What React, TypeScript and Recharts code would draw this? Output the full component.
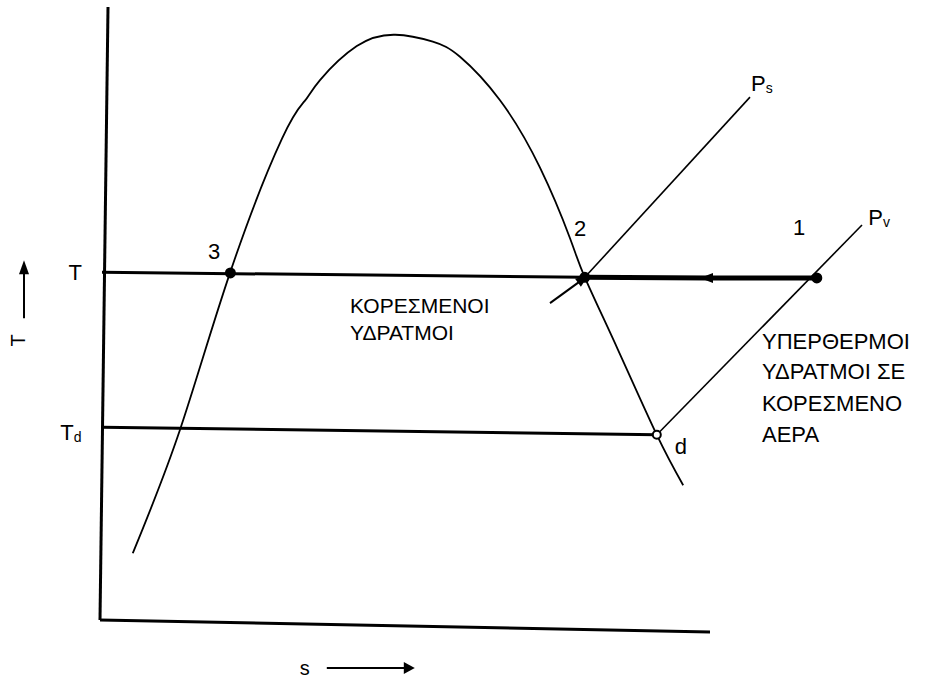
import React from "react";
import { LineChart, Line, XAxis, YAxis, ReferenceDot } from "recharts";

// s (entropy) and T (temperature) in arbitrary units
const domeS = [4.1, 10, 16.25, 22.75, 25.6, 27.5, 32.1, 36.9, 41.6, 45, 50, 55, 58.75, 60.6, 64.75, 69.6, 72.9];
const domeT = [12.5, 32.1, 57.0, 78.3, 84.3, 87.6, 93.0, 94.8, 93.7, 91.3, 84.4, 73.7, 62.5, 56.3, 44.8, 31.3, 23.3];

// isotherm T: thin part up to point 2, thick part 1 -> 2 with arrow
const isoS = [0.25, 60.6];
const isoT = [57.1, 56.3];
const heatS = [60.6, 76, 89.6];
const heatT = [56.3, 56.2, 56.2];

// dew point line Td
const dewS = [0.25, 69.6];
const dewT = [32.5, 31.3];

// isobars Ps and Pv
const psS = [60.6, 81.25];
const psT = [56.3, 84.9];
const psArrowS = [56.25, 60.25];
const psArrowT = [52.2, 55.9];
const pvS = [69.6, 95.25];
const pvT = [31.3, 64.6];

// hand drawn axes
const axisYS = [1, 0];
const axisYT = [99.2, 1.9];
const axisXS = [0, 76.25];
const axisXT = [1.9, 0];

// state points 3, 2, 1, d
const stateNames = ["3", "2", "1", "d"];
const stateS = [16.3, 60.6, 89.6, 69.6];
const stateT = [57.0, 56.3, 56.2, 31.3];

// text labels
const labelText = ["T", "T", "3", "2", "1", "P", "P", "d"];
const labelSub = ["", "d", "", "", "", "s", "v", ""];
const labelS = [-3.1, -4.1, 14.25, 60, 87.4, 82.25, 96.9, 72.6];
const labelT = [57.1, 31.7, 60.5, 64.1, 64.3, 87.1, 65.9, 29.5];

const satLines = ["ΚΟΡΕΣΜΕΝΟΙ", "ΥΔΡΑΤΜΟΙ"];
const satS = 31.25;
const satT = [51.9, 47.6];
const superLines = ["ΥΠΕΡΘΕΡΜΟΙ", "ΥΔΡΑΤΜΟΙ ΣΕ", "ΚΟΡΕΣΜΕΝΟ", "ΑΕΡΑ"];
const superS = 82.75;
const superT = [46.1, 41.3, 36.2, 31.3];

const FONT = '"Liberation Sans", Arial, sans-serif';
const INK = "#000";

const pts = (s: number[], t: number[]) => s.map((v, i) => ({ s: v, T: t[i] }));

const arrowDot = (at: number, angle: number) => (p: any) => {
  if (p.index !== at) return <g key={p.index} />;
  return (
    <polygon
      key={p.index}
      points="8,0 -5,-5 -5,5"
      fill={INK}
      transform={`translate(${p.cx},${p.cy}) rotate(${angle})`}
    />
  );
};

const App: React.FC = () => (
  <div style={{ position: "absolute", left: 0, top: 0, background: "#fff" }}>
    <LineChart width={926} height={679} margin={{ top: 2, right: 26, bottom: 47, left: 100 }}>
      <XAxis type="number" dataKey="s" domain={[0, 100]} hide />
      <YAxis type="number" dataKey="T" domain={[0, 100]} hide />

      <Line data={pts(axisYS, axisYT)} dataKey="T" type="linear" stroke={INK} strokeWidth={3} dot={false} isAnimationActive={false} />
      <Line data={pts(axisXS, axisXT)} dataKey="T" type="linear" stroke={INK} strokeWidth={3} dot={false} isAnimationActive={false} />

      <Line data={pts(domeS, domeT)} dataKey="T" type="natural" stroke={INK} strokeWidth={1.8} dot={false} isAnimationActive={false} />

      <Line data={pts(isoS, isoT)} dataKey="T" type="linear" stroke={INK} strokeWidth={3} dot={false} isAnimationActive={false} />
      <Line data={pts(heatS, heatT)} dataKey="T" type="linear" stroke={INK} strokeWidth={5} dot={arrowDot(1, 180)} isAnimationActive={false} />
      <Line data={pts(dewS, dewT)} dataKey="T" type="linear" stroke={INK} strokeWidth={3} dot={false} isAnimationActive={false} />

      <Line data={pts(psS, psT)} dataKey="T" type="linear" stroke={INK} strokeWidth={1.6} dot={false} isAnimationActive={false} />
      <Line data={pts(psArrowS, psArrowT)} dataKey="T" type="linear" stroke={INK} strokeWidth={2} dot={arrowDot(1, -36)} isAnimationActive={false} />
      <Line data={pts(pvS, pvT)} dataKey="T" type="linear" stroke={INK} strokeWidth={1.6} dot={false} isAnimationActive={false} />

      {stateNames.map((n, i) => (
        <ReferenceDot
          key={`state-${n}`}
          x={stateS[i]}
          y={stateT[i]}
          r={n === "d" ? 4 : 4.5}
          fill={n === "d" ? "#fff" : INK}
          stroke={INK}
          strokeWidth={2}
          ifOverflow="visible"
        />
      ))}

      {labelText.map((t, i) => (
        <ReferenceDot
          key={`lab-${i}`}
          x={labelS[i]}
          y={labelT[i]}
          r={1}
          ifOverflow="visible"
          shape={(p: any) => (
            <text x={p.cx} y={p.cy} textAnchor={labelSub[i] ? "start" : "middle"} dominantBaseline="central" fontFamily={FONT} fontSize={22} fill={INK}>
              <tspan dx={labelSub[i] ? -7 : 0}>{t}</tspan>
              {labelSub[i] && (
                <tspan fontSize={14} dy={5}>
                  {labelSub[i]}
                </tspan>
              )}
            </text>
          )}
        />
      ))}

      {satLines.map((t, i) => (
        <ReferenceDot
          key={`sat-${i}`}
          x={satS}
          y={satT[i]}
          r={1}
          ifOverflow="visible"
          shape={(p: any) => (
            <text x={p.cx} y={p.cy} dominantBaseline="central" fontFamily={FONT} fontSize={21} fill={INK}>
              {t}
            </text>
          )}
        />
      ))}
      {superLines.map((t, i) => (
        <ReferenceDot
          key={`sup-${i}`}
          x={superS}
          y={superT[i]}
          r={1}
          ifOverflow="visible"
          shape={(p: any) => (
            <text x={p.cx} y={p.cy} dominantBaseline="central" fontFamily={FONT} fontSize={22} fill={INK}>
              {t}
            </text>
          )}
        />
      ))}

      {/* axis titles with arrows */}
      <ReferenceDot
        x={25.6}
        y={-5.7}
        r={1}
        ifOverflow="visible"
        shape={(p: any) => (
          <g transform={`translate(${p.cx},${p.cy})`}>
            <text textAnchor="middle" dominantBaseline="central" fontFamily={FONT} fontSize={20} fill={INK}>s</text>
            <line x1={22} y1={0} x2={100} y2={0} stroke={INK} strokeWidth={2} />
            <polygon points="110,0 99,-6 99,6" fill={INK} />
          </g>
        )}
      />
      <ReferenceDot
        x={-10.25}
        y={46.3}
        r={1}
        ifOverflow="visible"
        shape={(p: any) => (
          <g transform={`translate(${p.cx},${p.cy})`}>
            <text transform="rotate(-90)" textAnchor="middle" dominantBaseline="central" fontFamily={FONT} fontSize={20} fill={INK}>T</text>
            <line x1={6} y1={-22} x2={6} y2={-68} stroke={INK} strokeWidth={2} />
            <polygon points="6,-80 1,-66 11,-66" fill={INK} />
          </g>
        )}
      />
    </LineChart>
  </div>
);

export default App;
